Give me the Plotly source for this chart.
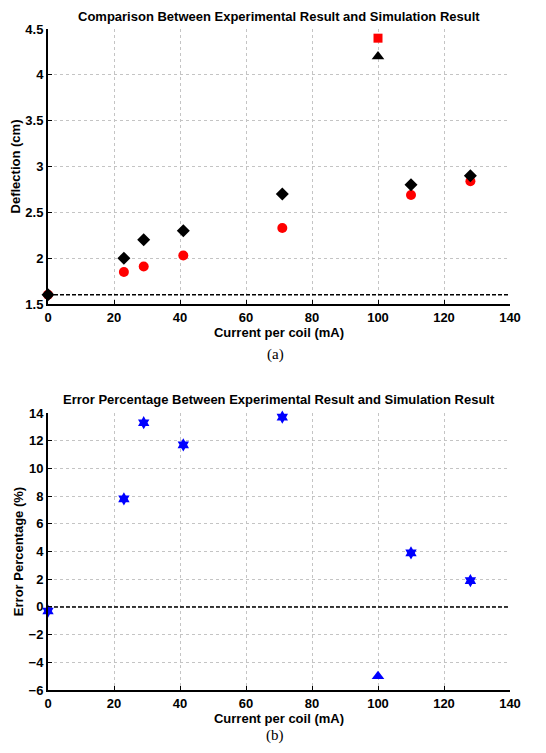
import plotly.graph_objects as go

# Page body has an 8px default margin; work in reference pixel coords minus offset
OFF = 8
W, H = 546 - OFF, 753 - OFF

def px(v):
    return (v - OFF) / W

def py(v):
    return 1 - (v - OFF) / H

# Top panel data (deflection, cm)
current = [0, 23, 29, 41, 71, 110, 128]
sim_deflection = [1.6, 2.0, 2.2, 2.3, 2.7, 2.8, 2.9]
exp_deflection = [1.6, 1.85, 1.91, 2.03, 2.33, 2.69, 2.84]
special_current = [100]
special_sim = [4.2]
special_exp = [4.4]
baseline_deflection = 1.6

# Bottom panel data (error %)
error_pct = [-0.3, 7.8, 13.3, 11.7, 13.7, 3.9, 1.9]
special_error = [-5.0]
baseline_error = 0

x_ticks = [0, 20, 40, 60, 80, 100, 120, 140]
y1_ticks = [1.5, 2, 2.5, 3, 3.5, 4, 4.5]
y2_ticks = [-6, -4, -2, 0, 2, 4, 6, 8, 10, 12, 14]

fig = go.Figure()
dash = "4px,2px"

# top
fig.add_trace(go.Scatter(x=[0, 140], y=[baseline_deflection]*2, mode="lines",
                         line=dict(color="black", dash=dash, width=1.5), xaxis="x", yaxis="y"))
fig.add_trace(go.Scatter(x=current, y=exp_deflection, mode="markers", cliponaxis=False,
                         marker=dict(symbol="circle", color="#ff0000", size=10), xaxis="x", yaxis="y"))
fig.add_trace(go.Scatter(x=current, y=sim_deflection, mode="markers", cliponaxis=False,
                         marker=dict(symbol="diamond", color="black", size=10), xaxis="x", yaxis="y"))
fig.add_trace(go.Scatter(x=special_current, y=special_exp, mode="markers", cliponaxis=False,
                         marker=dict(symbol="square", color="#ff0000", size=9), xaxis="x", yaxis="y"))
fig.add_trace(go.Scatter(x=special_current, y=special_sim, mode="markers", cliponaxis=False,
                         marker=dict(symbol="triangle-up", color="black", size=11), xaxis="x", yaxis="y"))

# bottom
fig.add_trace(go.Scatter(x=[0, 140], y=[baseline_error]*2, mode="lines",
                         line=dict(color="black", dash=dash, width=1.5), xaxis="x2", yaxis="y2"))
fig.add_trace(go.Scatter(x=current, y=error_pct, mode="markers", cliponaxis=False,
                         marker=dict(symbol="hexagram", color="#0000ff", size=10), xaxis="x2", yaxis="y2"))
fig.add_trace(go.Scatter(x=special_current, y=special_error, mode="markers", cliponaxis=False,
                         marker=dict(symbol="triangle-up", color="#0000ff", size=11), xaxis="x2", yaxis="y2"))

xd = [px(48), px(510)]
tickfont = dict(family="Liberation Sans, Arial", size=13, color="black", weight="bold")
axcommon = dict(showgrid=True, gridcolor="#c4c4c4", griddash="dot", gridwidth=1,
                showline=True, linecolor="black", linewidth=2, ticks="inside", ticklen=4,
                tickcolor="black", tickfont=tickfont, zeroline=False, mirror=False, automargin=False)
titlefont = dict(family="Liberation Sans, Arial", size=13, color="black", weight="bold")

fig.update_layout(
    width=W, height=H, margin=dict(l=0, r=0, t=0, b=0),
    paper_bgcolor="white", plot_bgcolor="white", showlegend=False,
    xaxis=dict(domain=xd, range=[0, 140], tickvals=x_ticks, anchor="y",
               title=dict(text="Current per coil (mA)", font=titlefont, standoff=0), **axcommon),
    yaxis=dict(domain=[py(304), py(29)], range=[1.5, 4.5], tickvals=y1_ticks,
               ticktext=[str(v) for v in y1_ticks], anchor="x",
               title=dict(text="Deflection (cm)", font=titlefont, standoff=2), **axcommon),
    xaxis2=dict(domain=xd, range=[0, 140], tickvals=x_ticks, anchor="y2",
                title=dict(text="Current per coil (mA)", font=titlefont, standoff=0), **axcommon),
    yaxis2=dict(domain=[py(690), py(413)], range=[-6, 14], tickvals=y2_ticks, anchor="x2",
                title=dict(text="Error Percentage (%)", font=titlefont, standoff=2), **axcommon),
    annotations=[
        dict(text="Comparison Between Experimental Result and Simulation Result", x=px(279), y=1.0,
             xref="paper", yref="paper", showarrow=False, font=titlefont, xanchor="center", yanchor="top",
             borderpad=0),
        dict(text="Error Percentage Between Experimental Result and Simulation Result", x=px(279), y=py(399),
             xref="paper", yref="paper", showarrow=False, font=titlefont, xanchor="center", yanchor="middle"),
        dict(text="(a)", x=px(275), y=py(354), xref="paper", yref="paper", showarrow=False,
             font=dict(family="Liberation Serif, Times New Roman", size=15, color="black"), yanchor="middle"),
        dict(text="(b)", x=px(275), y=py(735), xref="paper", yref="paper", showarrow=False,
             font=dict(family="Liberation Serif, Times New Roman", size=15, color="black"), yanchor="middle"),
    ],
)

fig.write_html("out.html")
